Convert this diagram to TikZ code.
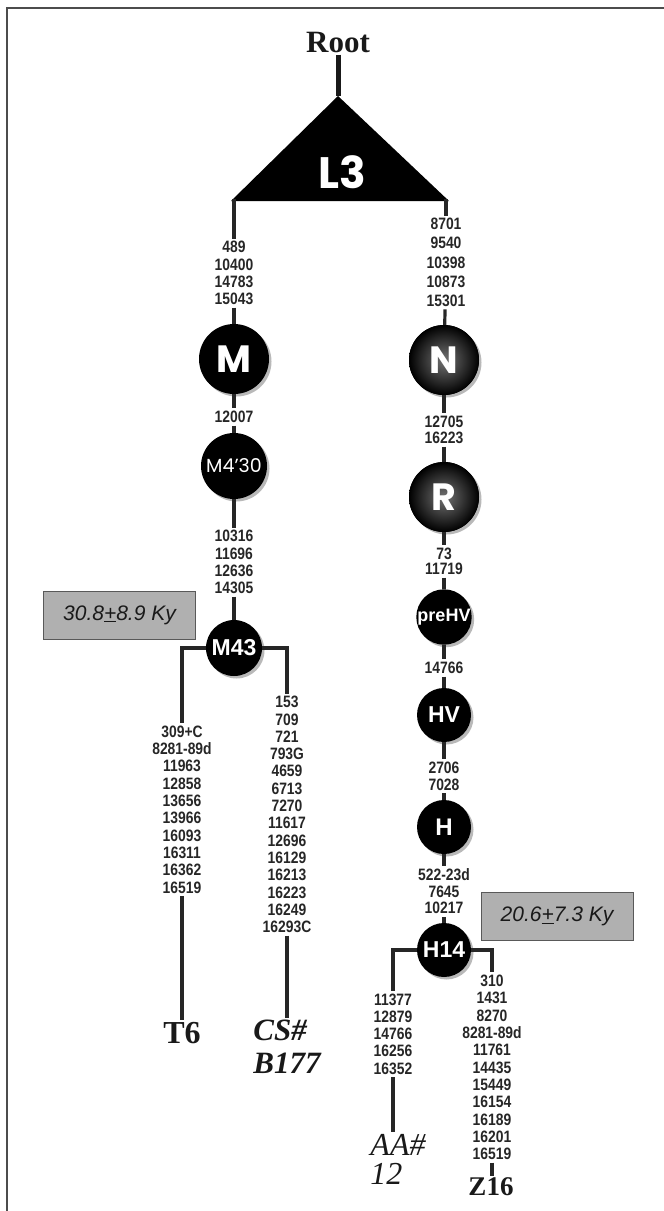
\documentclass[tikz,border=0pt]{standalone}
\usepackage{fontspec}
\setmainfont{Liberation Serif}
\setsansfont{Liberation Sans}
\newfontfamily\roundfont{Poppins}
\newfontfamily\mutfont[FakeStretch=0.84]{Liberation Sans}
\usetikzlibrary{shadows}

\tikzset{
  hap/.style={circle, fill=black, inner sep=0pt, text=white, minimum size=#1,
    drop shadow={shadow xshift=2.5pt, shadow yshift=-2.5pt, fill=gray!55, opacity=1}},
  hap/.default=54pt,
  shadedhap/.style={hap=#1, shading=radial, inner color=black!55, outer color=black},
  muts/.style={align=center, text=black!85, inner sep=2.5pt,
    font=\mutfont\bfseries\fontsize{16.5}{17.3}\selectfont},
  branch/.style={line width=3.2pt, black!85},
  agebox/.style={draw=gray!70!black, fill=gray!62, minimum width=152pt, minimum height=48pt,
    text=black!90, font=\sffamily\itshape\fontsize{21}{24}\selectfont},
  leaf/.style={inner sep=2pt, text=black!90, font=\rmfamily\bfseries\fontsize{30}{33}\selectfont},
  bigname/.style={font=\roundfont\bfseries\fontsize{#1}{#1}\selectfont},
  thinname/.style={font=\roundfont\fontsize{#1}{#1}\selectfont},
  smallname/.style={font=\sffamily\bfseries\fontsize{#1}{#1}\selectfont}
}

\begin{document}
\begin{tikzpicture}[x=1pt,y=-1pt]
        \useasboundingbox (0,0) rectangle (664,1211);
        \draw [gray!60!black, line width=2pt] (664,8) -- (7,8) -- (7,1211);

        % root and the L3 triangle
        \node [leaf, font=\rmfamily\bfseries\fontsize{31}{33}\selectfont] (root) at (338,42) {Root};
        \coordinate (apex) at (338,96);
        \coordinate (tl) at (234,199);
        \coordinate (tr) at (446,199);
        \fill [black] (apex) -- (231,201) -- (449,201) -- cycle;
        \node [text=white, bigname=44] (L3) at (342,172) {L3};
        \draw [line width=5pt, black!90] (root) -- (apex);

        % M side
        \node [muts] (mM) at (234,273) {489\\10400\\14783\\15043};
        \node [hap=70pt, bigname=38] (M) at (234,359) {M};
        \node [muts] (mM430) at (234,417) {12007};
        \node [hap=66pt, thinname=19] (M430) at (234,466) {M4’30};
        \node [muts] (mM43) at (234,562) {10316\\11696\\12636\\14305};
        \node [hap=56pt, smallname=23] (M43) at (234,648) {M43};
        \node [agebox] (age1) at (119.5,615) {30.8\underline{+}8.9 Ky};

        \node [muts] (mT6) at (182,809.5) {309+C\\8281-89d\\11963\\12858\\13656\\13966\\16093\\16311\\16362\\16519};
        \node [muts] (mCS) at (287,814.5) {153\\709\\721\\793G\\4659\\6713\\7270\\11617\\12696\\16129\\16213\\16223\\16249\\16293C};
        \node [leaf, font=\rmfamily\bfseries\fontsize{32}{33}\selectfont] (T6) at (182,1033) {T6};
        \node [leaf, align=left, font=\rmfamily\bfseries\itshape\fontsize{31}{33}\selectfont] (CS) at (287,1046.5) {CS\#\\B177};

        % N side
        \node [muts, font=\mutfont\bfseries\fontsize{16.5}{19.2}\selectfont] (mN) at (446,262.5) {8701\\9540\\10398\\10873\\15301};
        \node [shadedhap=70pt, bigname=38] (N) at (444,360) {N};
        \node [muts, font=\mutfont\bfseries\fontsize{16.5}{16}\selectfont] (mR) at (444,430) {12705\\16223};
        \node [shadedhap=70pt, bigname=38] (R) at (444,497) {R};
        \node [muts, font=\mutfont\bfseries\fontsize{16.5}{15}\selectfont] (mpreHV) at (444,561.5) {73\\11719};
        \node [hap=54pt, smallname=18] (preHV) at (444,617) {preHV};
        \node [muts] (mHV) at (444,668) {14766};
        \node [hap=54pt, smallname=23] (HV) at (444,715) {HV};
        \node [muts] (mH) at (444,776) {2706\\7028};
        \node [hap=54pt, smallname=24] (H) at (444,827) {H};
        \node [muts, font=\mutfont\bfseries\fontsize{16.5}{16.5}\selectfont] (mH14) at (444,891.5) {522-23d\\7645\\10217};
        \node [hap=54pt, smallname=23] (H14) at (444,950) {H14};
        \node [agebox] (age2) at (557,916.5) {20.6\underline{+}7.3 Ky};

        \node [muts] (mAA) at (393,1034) {11377\\12879\\14766\\16256\\16352};
        \node [muts] (mZ16) at (492,1067.5) {310\\1431\\8270\\8281-89d\\11761\\14435\\15449\\16154\\16189\\16201\\16519};
        \node [leaf, align=left, font=\rmfamily\itshape\fontsize{32}{29}\selectfont] (AA) at (398,1159) {AA\#\\12};
        \node [leaf, font=\rmfamily\bfseries\fontsize{27}{28}\selectfont] (Z16) at (491,1187) {Z16};

        \draw [branch] (tl) -- (mM);
        \draw [branch] (mM) -- (M);
        \draw [branch] (M) -- (mM430);
        \draw [branch] (mM430) -- (M430);
        \draw [branch] (M430) -- (mM43);
        \draw [branch] (mM43) -- (M43);
        \draw [branch] (M43) -| (mT6);
        \draw [branch] (M43) -| (mCS);
        \draw [branch] (mT6) -- (mT6 |- T6.north);
        \draw [branch] (mCS) -- (mCS |- CS.north);

        \draw [branch] (tr) -- (mN);
        \draw [branch] (mN) -- (N);
        \draw [branch] (N) -- (mR);
        \draw [branch] (mR) -- (R);
        \draw [branch] (R) -- (mpreHV);
        \draw [branch] (mpreHV) -- (preHV);
        \draw [branch] (preHV) -- (mHV);
        \draw [branch] (mHV) -- (HV);
        \draw [branch] (HV) -- (mH);
        \draw [branch] (mH) -- (H);
        \draw [branch] (H) -- (mH14);
        \draw [branch] (mH14) -- (H14);
        \draw [branch] (H14) -| (mAA);
        \draw [branch] (H14) -| (mZ16);
        \draw [branch] (mAA) -- (mAA |- AA.north);
        \draw [branch] (mZ16) -- (mZ16 |- Z16.north);

    \end{tikzpicture}
\end{document}
